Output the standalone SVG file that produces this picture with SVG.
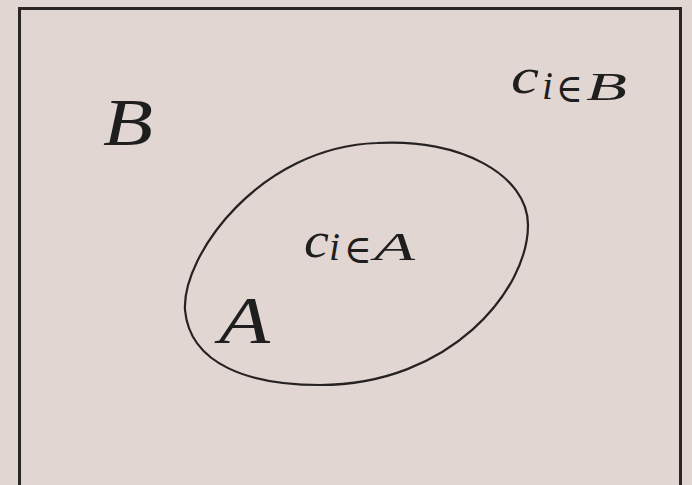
<svg xmlns="http://www.w3.org/2000/svg" width="692" height="485" viewBox="0 0 692 485">
<style>
.m{font-family:"Liberation Serif","DejaVu Serif",serif;font-style:italic;fill:#1e1e1e}
.s{font-family:"DejaVu Serif","Liberation Serif",serif;fill:#1e1e1e}
</style>
<rect x="0" y="0" width="692" height="485" fill="#e1d6d2"/>
<g id="setB">
<rect x="19.5" y="8.5" width="661" height="490" fill="none" stroke="#2a2626" stroke-width="3"/>
<text class="m" x="103" y="145" font-size="68" textLength="50" lengthAdjust="spacingAndGlyphs">B</text>
<text class="m" x="511" y="93" font-size="50" textLength="28" lengthAdjust="spacingAndGlyphs">c</text>
<text class="m" x="542" y="99" font-size="40" textLength="11" lengthAdjust="spacingAndGlyphs">i</text>
<text class="s" x="556" y="102" font-size="40" textLength="27" lengthAdjust="spacingAndGlyphs">∈</text>
<text class="m" x="586" y="100" font-size="40" textLength="41" lengthAdjust="spacingAndGlyphs">B</text>
</g>
<g id="setA">
<path d="M377 143 C460 138 528 175 528 225 C528 290 450 385 320 385 C250 385 190 365 185 310 C182 255 260 147 377 143 Z" fill="none" stroke="#262222" stroke-width="2.2"/>
<text class="m" x="219" y="343" font-size="68" textLength="51" lengthAdjust="spacingAndGlyphs">A</text>
<text class="m" x="304" y="257" font-size="50" textLength="25" lengthAdjust="spacingAndGlyphs">c</text>
<text class="m" x="329" y="260" font-size="40" textLength="11" lengthAdjust="spacingAndGlyphs">i</text>
<text class="s" x="344" y="263" font-size="40" textLength="28" lengthAdjust="spacingAndGlyphs">∈</text>
<text class="m" x="374" y="260" font-size="40" textLength="41" lengthAdjust="spacingAndGlyphs">A</text>
</g>
<g id="connectors"/>
</svg>
